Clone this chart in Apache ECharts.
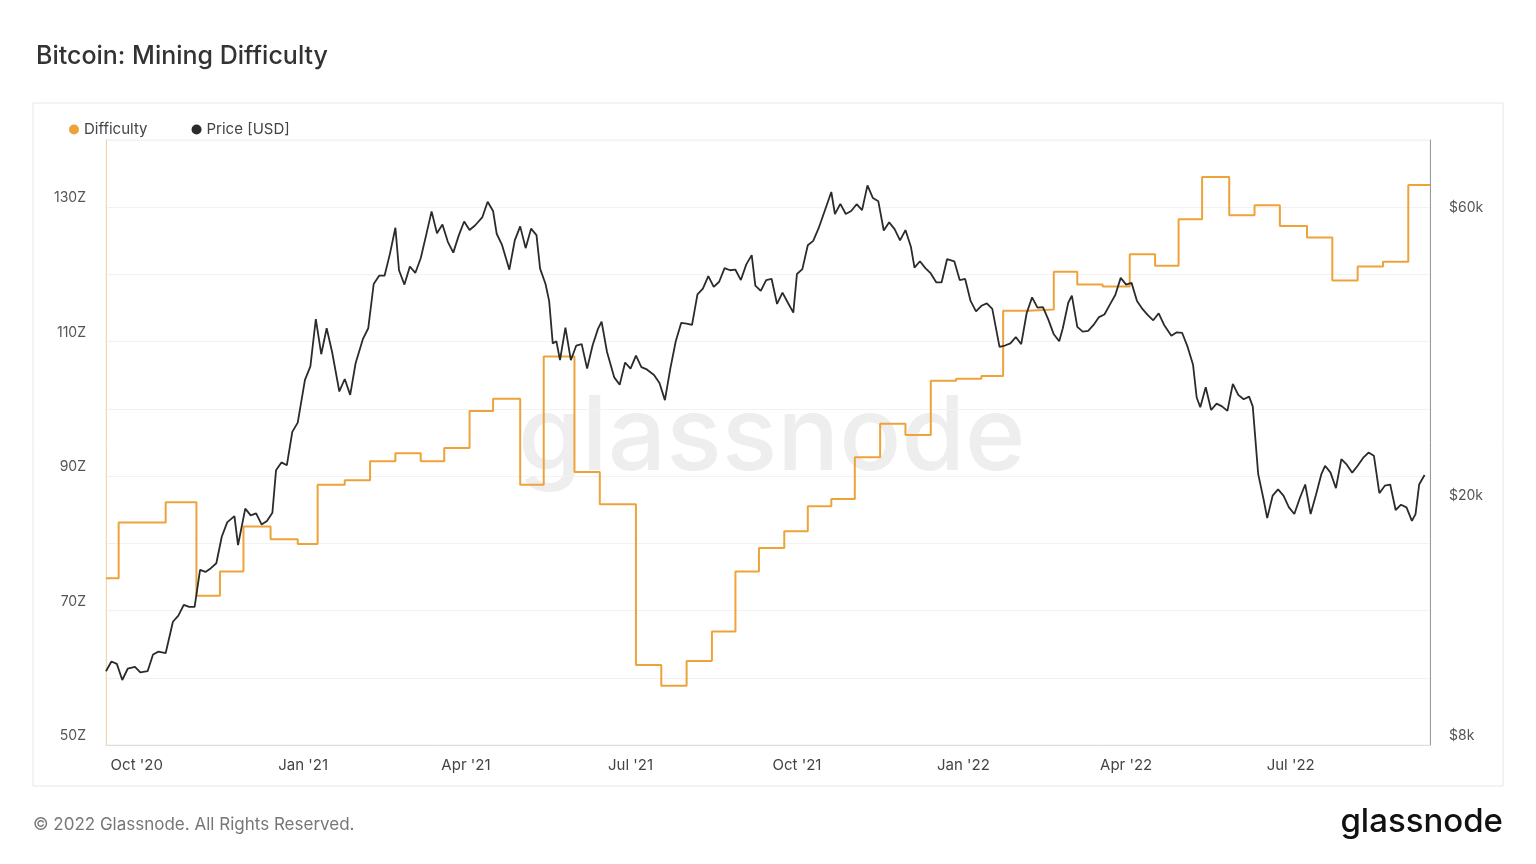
<!DOCTYPE html>
<html>
<head>
<meta charset="utf-8">
<script src="https://cdn.jsdelivr.net/npm/echarts@6/dist/echarts.min.js"></script>
<style>
html, body {margin: 0; padding: 0; background: #fff;}
#chart_id {width: 1536px; height: 864px;}
</style>
</head>
<body>
<div id="chart_id"></div>
<script>
//难度阶梯（日期，Z）
var difficultyDates = ['2020-09-14','2020-09-21','2020-10-17','2020-11-03','2020-11-16','2020-11-29','2020-12-14','2020-12-29',
    '2021-01-09','2021-01-24','2021-02-07','2021-02-21','2021-03-07','2021-03-20','2021-04-03','2021-04-16','2021-05-01',
    '2021-05-14','2021-05-31','2021-06-14','2021-07-04','2021-07-18','2021-08-01','2021-08-15','2021-08-28','2021-09-10',
    '2021-09-24','2021-10-07','2021-10-20','2021-11-02','2021-11-16','2021-11-30','2021-12-14','2021-12-28','2022-01-11',
    '2022-01-23','2022-02-06','2022-02-20','2022-03-05','2022-03-19','2022-04-03','2022-04-17','2022-04-30','2022-05-13',
    '2022-05-28','2022-06-11','2022-06-25','2022-07-10','2022-07-24','2022-08-07','2022-08-21','2022-09-04','2022-09-16'];
var difficultyValues = [74.8,83.1,86.1,72.2,75.8,82.5,80.6,79.9,88.7,89.4,92.2,93.4,92.2,94.2,99.7,101.5,88.7,
    107.8,90.6,85.8,61.9,58.8,62.5,66.9,75.8,79.3,81.8,85.5,86.6,92.8,97.8,96.1,104.2,104.5,104.9,
    114.6,114.8,120.4,118.5,118.2,123.0,121.3,128.2,134.5,128.8,130.3,127.2,125.5,119.1,121.2,121.9,133.3,133.3];

//价格（日期，USD）
var priceDates = ['2020-09-14','2020-09-17','2020-09-20','2020-09-23','2020-09-26','2020-09-30','2020-10-03','2020-10-07','2020-10-10','2020-10-13','2020-10-17','2020-10-21','2020-10-24','2020-10-27','2020-10-30',
    '2020-11-02','2020-11-05','2020-11-08','2020-11-11','2020-11-14','2020-11-17','2020-11-20','2020-11-24','2020-11-26','2020-11-30','2020-12-03','2020-12-06','2020-12-09','2020-12-12','2020-12-15','2020-12-17','2020-12-20','2020-12-23','2020-12-26','2020-12-29',
    '2021-01-02','2021-01-05','2021-01-08','2021-01-11','2021-01-14','2021-01-17','2021-01-21','2021-01-24','2021-01-27','2021-01-30','2021-02-03','2021-02-06','2021-02-09','2021-02-12','2021-02-15','2021-02-18','2021-02-21','2021-02-23','2021-02-26',
    '2021-03-01','2021-03-04','2021-03-07','2021-03-10','2021-03-13','2021-03-16','2021-03-19','2021-03-22','2021-03-25','2021-03-28','2021-03-31','2021-04-03','2021-04-06','2021-04-10','2021-04-13','2021-04-16','2021-04-18','2021-04-21','2021-04-25','2021-04-28',
    '2021-05-01','2021-05-04','2021-05-07','2021-05-10','2021-05-12','2021-05-15','2021-05-17','2021-05-19','2021-05-21','2021-05-23','2021-05-26','2021-05-29','2021-06-01','2021-06-04','2021-06-07','2021-06-10','2021-06-13','2021-06-15','2021-06-18','2021-06-22','2021-06-25','2021-06-28',
    '2021-07-01','2021-07-04','2021-07-07','2021-07-10','2021-07-14','2021-07-17','2021-07-20','2021-07-23','2021-07-26','2021-07-29','2021-08-01','2021-08-04','2021-08-07','2021-08-10','2021-08-13','2021-08-16','2021-08-19','2021-08-22','2021-08-25','2021-08-28','2021-08-31',
    '2021-09-03','2021-09-06','2021-09-08','2021-09-11','2021-09-14','2021-09-17','2021-09-20','2021-09-23','2021-09-26','2021-09-29','2021-10-01','2021-10-04','2021-10-07','2021-10-10','2021-10-13','2021-10-16','2021-10-20','2021-10-22','2021-10-25','2021-10-28','2021-10-31',
    '2021-11-03','2021-11-06','2021-11-09','2021-11-12','2021-11-15','2021-11-18','2021-11-21','2021-11-24','2021-11-27','2021-11-30','2021-12-03','2021-12-05','2021-12-08','2021-12-11','2021-12-14','2021-12-17','2021-12-20','2021-12-23','2021-12-27','2021-12-30',
    '2022-01-02','2022-01-05','2022-01-08','2022-01-11','2022-01-14','2022-01-17','2022-01-21','2022-01-24','2022-01-27','2022-01-30','2022-02-02','2022-02-05','2022-02-08','2022-02-11','2022-02-14','2022-02-17','2022-02-20','2022-02-23','2022-02-25','2022-02-28',
    '2022-03-02','2022-03-05','2022-03-08','2022-03-11','2022-03-14','2022-03-17','2022-03-20','2022-03-23','2022-03-26','2022-03-29','2022-04-01','2022-04-04','2022-04-07','2022-04-10','2022-04-13','2022-04-16','2022-04-19','2022-04-22','2022-04-26','2022-04-29',
    '2022-05-02','2022-05-05','2022-05-08','2022-05-10','2022-05-12','2022-05-15','2022-05-18','2022-05-21','2022-05-24','2022-05-27','2022-05-30','2022-06-02','2022-06-05','2022-06-08','2022-06-10','2022-06-13','2022-06-16','2022-06-18','2022-06-21','2022-06-24','2022-06-27','2022-06-30',
    '2022-07-03','2022-07-06','2022-07-09','2022-07-12','2022-07-15','2022-07-18','2022-07-20','2022-07-23','2022-07-26','2022-07-29','2022-08-01','2022-08-04','2022-08-07','2022-08-10','2022-08-13','2022-08-16','2022-08-19','2022-08-22','2022-08-25','2022-08-28','2022-08-31',
    '2022-09-03','2022-09-06','2022-09-08','2022-09-10','2022-09-13'];
var priceValues = [10600,11000,10900,10250,10700,10780,10550,10600,11300,11420,11360,12800,13100,13650,13550,
    13550,15600,15480,15700,16000,17700,18700,19150,17150,19700,19200,19350,18550,18800,19400,22800,23500,23250,26400,27350,
    32200,33900,40600,35500,39200,35800,30800,32300,30400,34300,37600,39200,46400,47900,47900,52100,57500,48900,46300,
    49600,48400,51200,55900,61200,56300,58200,54500,52300,55800,58900,57000,58000,59800,63500,61300,56200,53800,49000,54800,
    57800,53200,57300,55900,49200,46400,43500,37000,37300,34700,39300,34700,36700,36900,33600,36700,39100,40200,35800,32500,31600,34400,
    33600,35300,33800,33500,32800,31800,29800,33600,37300,40000,39900,39700,44600,45600,47800,45900,46800,49300,48900,49000,47100,
    50000,51800,46100,45200,47100,47300,43000,44900,43200,41600,48200,49100,53800,54700,57400,60900,65900,60600,63000,60600,61300,
    62900,61500,67600,64400,63600,56900,58700,57200,54800,57000,53500,49400,50600,49300,48300,46700,46700,51000,50600,47100,
    47300,43500,41800,42700,43100,42200,36500,36700,37000,37900,36900,41500,44100,42400,42500,40500,38300,37300,39200,43200,
    44400,39400,38700,38800,39700,40900,41300,42900,44500,47500,46300,46600,43500,42200,41200,40400,41500,39700,38100,38600,
    38500,36500,34100,30100,29000,31300,28700,29400,29100,28600,31700,30400,29900,30200,29100,22500,20400,19000,20700,21200,20700,19800,
    19300,20500,21600,19300,20800,22500,23200,22600,21300,23800,23300,22600,23200,23900,24400,24100,20900,21500,21600,19600,20000,
    19800,18800,19300,21600,22400];

//坐标轴刻度
var dateTicks = ['2020-10-01','2021-01-01','2021-04-01','2021-07-01','2021-10-01','2022-01-01','2022-04-01','2022-07-01'];
var difficultyTicks = [50,70,90,110,130];
var priceTicks = [8000,20000,60000];

var monthNames = ['Jan','Feb','Mar','Apr','May','Jun','Jul','Aug','Sep','Oct','Nov','Dec'];

function toTime(d) {
    return new Date(d + 'T00:00:00Z').getTime();
}

function initChart() {
    var myChart = echarts.init(document.getElementById("chart_id"));
    var diffData = [];
    for (var i = 0, lens = difficultyDates.length; i < lens; i++) {
        diffData[i] = [toTime(difficultyDates[i]), difficultyValues[i]];
    }
    var priceData = [];
    for (var j = 0, plens = priceDates.length; j < plens; j++) {
        priceData[j] = [toTime(priceDates[j]), Math.log10(priceValues[j])];
    }
    var logTicks = priceTicks.map(function (v) { return Math.log10(v); });
    var option = {
        animation: false,
        backgroundColor: '#fff',
        textStyle: {fontFamily: 'Inter, Roboto, sans-serif'},
        title: {
            text: 'Bitcoin: Mining Difficulty',
            left: 31, top: 39,
            textStyle: {fontSize: 25, fontWeight: 500, color: '#333', fontFamily: 'Inter, sans-serif'}
        },
        legend: {
            left: 64, top: 117,
            itemWidth: 10, itemHeight: 10, itemGap: 44,
            icon: 'circle',
            textStyle: {fontSize: 15, color: '#444'},
            data: ['Difficulty', 'Price [USD]']
        },
        graphic: [
            {type: 'rect', shape: {x: 33, y: 103, width: 1470, height: 683}, style: {fill: 'none', stroke: '#e6e6e6', lineWidth: 1}, z: -1},
            {type: 'text', left: 518, top: 388, z: 0, style: {text: 'glassnode', fontSize: 103, fill: 'rgba(200,200,200,0.3)', fontFamily: 'Inter, sans-serif', fontWeight: 500}},
            {type: 'text', left: 33, top: 816, style: {text: '\u00a9 2022 Glassnode. All Rights Reserved.', fontSize: 17, fill: '#777', fontFamily: 'Inter, sans-serif'}},
            {type: 'text', right: 33, top: 806, style: {text: 'glassnode', fontSize: 33, fill: '#111', fontFamily: 'Inter, sans-serif', fontWeight: 500}}
        ],
        grid: {left: 106, right: 106, top: 140, bottom: 119, show: true, borderColor: '#eee', borderWidth: 1},
        xAxis: {
            type: 'value',
            min: toTime('2020-09-14'), max: toTime('2022-09-16'),
            axisLine: {show: true, lineStyle: {color: '#ddd'}},
            axisTick: {show: false},
            splitLine: {show: false},
            axisLabel: {
                customValues: dateTicks.map(toTime),
                color: '#444', fontSize: 15, margin: 13,
                formatter: function (v) {
                    var d = new Date(v);
                    return monthNames[d.getUTCMonth()] + " '" + String(d.getUTCFullYear()).slice(2);
                }
            }
        },
        yAxis: [
            {
                type: 'value', min: 50, max: 140, interval: 10,
                axisLine: {show: true, lineStyle: {color: '#f6d7a8'}},
                axisTick: {show: false},
                splitLine: {lineStyle: {color: '#f2f2f2'}},
                axisLabel: {
                    customValues: difficultyTicks,
                    color: '#555', fontSize: 14, margin: 20, verticalAlign: 'bottom', padding: [0, 0, 2, 0],
                    formatter: function (v) { return v + 'Z'; }
                }
            },
            {
                type: 'value', min: Math.log10(8000), max: 4.905,
                position: 'right',
                axisLine: {show: true, lineStyle: {color: '#999'}},
                axisTick: {show: false},
                splitLine: {show: false},
                axisLabel: {
                    customValues: logTicks,
                    color: '#555', fontSize: 14, margin: 19, verticalAlign: 'bottom', padding: [0, 0, 2, 0],
                    formatter: function (v) { return '$' + Math.round(Math.pow(10, v) / 1000) + 'k'; }
                }
            }
        ],
        series: [
            {
                name: 'Difficulty', type: 'line', step: 'end',
                yAxisIndex: 0, data: diffData, showSymbol: false,
                itemStyle: {color: '#eea33a'},
                lineStyle: {color: '#eea33a', width: 2}, z: 3
            },
            {
                name: 'Price [USD]', type: 'line',
                yAxisIndex: 1, data: priceData, showSymbol: false,
                itemStyle: {color: '#2b2b2b'},
                lineStyle: {color: '#2b2b2b', width: 1.8}, z: 4
            }
        ]
    };
    myChart.setOption(option, true);
}

initChart();
</script>
</body>
</html>
